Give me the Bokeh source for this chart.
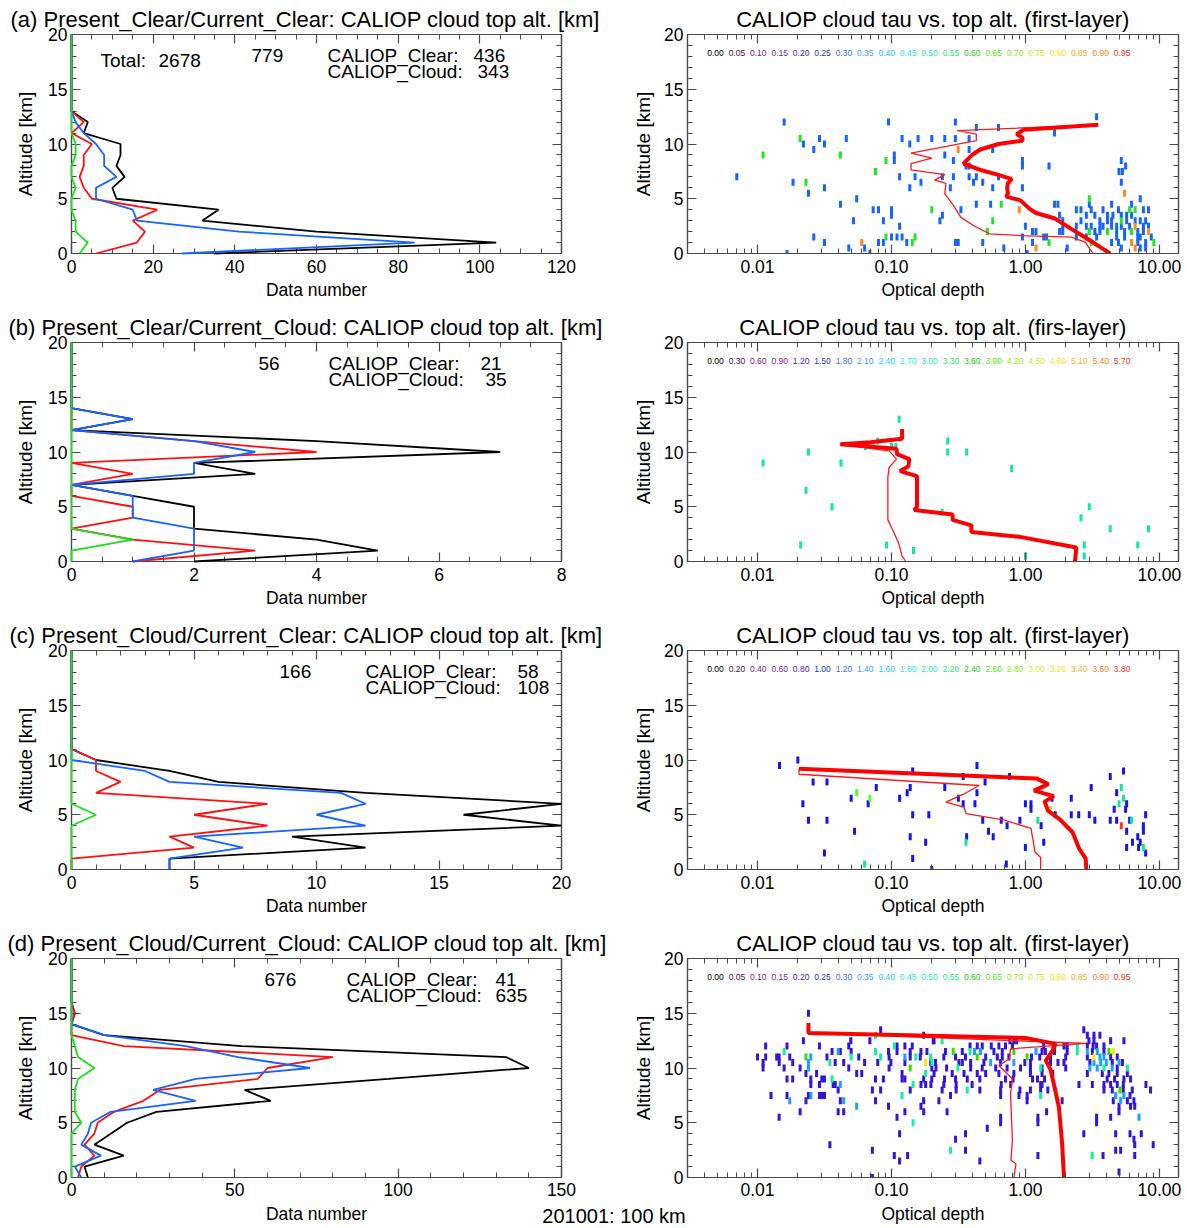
import numpy as np
from bokeh.plotting import figure
from bokeh.layouts import column, row
from bokeh.models import (Range1d, FixedTicker, PrintfTickFormatter, LinearAxis, LogAxis, Label)
from bokeh.embed import file_html
from bokeh.resources import INLINE

# ------------------------------------------------------------------ data
alt_levels = list(range(21))  # km

a_black = [35, 104, 60, 32, 36, 11, 10, 13, 11, 12, 12, 3, 4] + [0] * 8
a_blue = [27, 84, 41, 16, 15, 6, 6, 11, 8, 8, 6, 3, 1] + [0] * 8
a_red = [6, 16, 18, 15, 21, 5, 3, 2, 3, 3, 5, 0, 3] + [0] * 8
a_green = [2, 4, 1, 1, 0, 0, 1, 0, 0, 1, 1, 0, 0] + [0] * 8

b_black = [2, 5, 4, 2, 2, 2, 1, 0, 3, 2, 7, 4, 0, 1] + [0] * 7
b_blue = [1, 2, 2, 2, 1, 1, 1, 0, 2, 2, 3, 2, 0, 1] + [0] * 7
b_red = [1, 3, 1, 0, 1, 1, 0, 0, 1, 0, 4, 2, 0, 0] + [0] * 7
b_green = [0, 0, 1, 0] + [0] * 17

c_black = [4, 4, 12, 9, 20, 16, 20, 12, 6, 4, 1] + [0] * 10
c_blue = [4, 4, 7, 5, 12, 10, 12, 11, 4, 3, 0] + [0] * 10
c_red = [0, 0, 5, 4, 8, 5, 8, 1, 2, 1, 1] + [0] * 10
c_green = [0, 0, 0, 0, 0, 1, 0] + [0] * 14

d_black = [5, 4, 16, 7, 12, 17, 26, 61, 53, 97, 140, 133, 52, 10, 0, 1, 0, 0, 0, 0, 0]
d_blue = [3, 1, 9, 3, 5, 6, 12, 38, 25, 38, 73, 51, 35, 10, 0, 0, 0, 0, 0, 0, 0]
d_red = [2, 3, 7, 4, 7, 8, 13, 22, 27, 57, 60, 80, 16, 0, 0, 1, 0, 0, 0, 0, 0]
d_green = [0, 0, 0, 0, 0, 3, 1, 1, 1, 2, 7, 2, 1, 0, 0, 0, 0, 0, 0, 0, 0]

left_titles = ["(a) Present_Clear/Current_Clear: CALIOP cloud top alt. [km]",
               "(b) Present_Clear/Current_Cloud: CALIOP cloud top alt. [km]",
               "(c) Present_Cloud/Current_Clear: CALIOP cloud top alt. [km]",
               "(d) Present_Cloud/Current_Cloud: CALIOP cloud top alt. [km]"]
right_titles = ["CALIOP cloud tau vs. top alt. (first-layer)",
                "CALIOP cloud tau vs. top alt. (firs-layer)",
                "CALIOP cloud tau vs. top alt. (first-layer)",
                "CALIOP cloud tau vs. top alt. (first-layer)"]
total_all = 2678
n_case = [779, 56, 166, 676]
n_clear = [436, 21, 58, 41]
n_cloud = [343, 35, 108, 635]
x_max = [120, 8, 20, 150]
x_major_step = [20, 2, 5, 50]
x_minor_step = [5, 0.5, 1, 10]

key_a = ["0.00", "0.05", "0.10", "0.15", "0.20", "0.25", "0.30", "0.35", "0.40", "0.45",
         "0.50", "0.55", "0.60", "0.65", "0.70", "0.75", "0.80", "0.85", "0.90", "0.95"]
key_b = ["0.00", "0.30", "0.60", "0.90", "1.20", "1.50", "1.80", "2.10", "2.40", "2.70",
         "3.00", "3.30", "3.60", "3.90", "4.20", "4.50", "4.80", "5.10", "5.40", "5.70"]
key_c = ["0.00", "0.20", "0.40", "0.60", "0.80", "1.00", "1.20", "1.40", "1.60", "1.80",
         "2.00", "2.20", "2.40", "2.60", "2.80", "3.00", "3.20", "3.40", "3.60", "3.80"]
key_d = key_a
key_colors = ["#000000", "#401048", "#7a1a8a", "#7c22b0", "#4a1ad0", "#2030e8", "#3c6cff",
              "#3c9cff", "#20c8ff", "#20ecec", "#20eeb0", "#20ee70", "#10d010", "#50ee10",
              "#90ee10", "#c8ee20", "#ffe010", "#ffb020", "#ff8020", "#ff3020"]

# 2-D histogram cells: {altitude km: [optical depths]}
a_cells_blue = {
    12.5: [3.4], 12.0: [0.0158, 0.095, 0.30], 11.5: [0.43, 0.63], 11.0: [1.65],
    10.5: [0.029, 0.046, 0.12, 0.158, 0.2, 0.25, 0.30, 0.38],
    10.0: [0.022, 0.0316, 0.137], 9.5: [0.0263, 0.38, 0.57], 9.0: [0.105, 0.25],
    8.5: [0.105, 0.29, 0.95, 5.2], 8.0: [0.36, 0.38, 0.95, 1.5, 5.6], 7.5: [5.0, 5.3],
    7.0: [0.007, 0.115, 0.15, 0.24, 0.29, 0.38, 0.43, 0.63],
    6.5: [0.0184, 0.166, 0.41, 0.48, 5.2], 6.0: [0.0316, 0.137, 0.275, 0.57, 0.95],
    5.5: [0.024], 5.0: [0.055, 7.2],
    4.5: [0.0416, 0.43, 0.55, 1.65, 1.75, 3.0, 4.4, 6.2],
    4.0: [0.073, 0.08, 0.1, 0.33, 2.4, 2.6, 3.1, 3.8, 4.95, 7.6, 8.3],
    3.5: [0.1, 0.24, 1.8, 2.85, 3.3, 4.1, 4.5, 5.2, 5.7, 6.2],
    3.0: [0.052, 0.087, 0.23, 1.9, 2.6, 3.6, 4.1, 4.4, 5.7, 6.6, 7.2, 7.9],
    2.5: [0.115, 1.0, 1.9, 2.4, 2.85, 3.1, 3.6, 3.8, 4.4, 4.8, 5.2, 6.0, 7.6, 8.3],
    2.0: [1.13, 1.2, 1.8, 1.9, 3.3, 3.6, 4.8, 5.5, 6.9, 7.6],
    1.5: [0.0263, 0.1, 0.11, 0.12, 0.95, 1.37, 1.44, 2.4, 2.85, 3.4, 4.8, 5.5, 6.9, 7.2, 8.7],
    1.0: [0.0316, 0.08, 0.087, 0.13, 0.30, 0.315, 0.48, 1.13, 4.4, 4.95, 6.9, 7.9],
    0.5: [0.048, 0.063, 0.69, 2.05, 5.2, 7.2, 7.9],
    0.0: [0.0166, 0.069, 1.03],
}
a_cells_green = {
    10.5: [0.0208], 9.0: [0.011, 0.0416], 8.5: [0.091], 7.5: [0.076], 6.5: [0.023],
    5.0: [3.0], 4.5: [0.66], 4.0: [0.2, 6.0, 6.6], 3.0: [0.57, 5.2],
    2.0: [0.52, 3.0, 4.1, 6.2], 1.5: [0.091, 0.15], 1.0: [0.143, 1.5, 3.1, 9.1],
}
a_cells_orange = {
    9.5: [0.315], 5.5: [5.5], 4.0: [0.9], 2.5: [6.6], 2.0: [8.3],
    1.0: [0.06, 6.2], 0.5: [1.2, 6.6],
}
b_cells_mint = {
    13.0: [0.114], 11.0: [0.079, 0.263], 10.5: [0.064, 0.1, 0.108],
    10.0: [0.024, 0.263, 0.364], 9.0: [0.011, 0.042], 8.5: [0.79], 6.5: [0.023],
    5.0: [0.036, 3.0], 4.5: [0.239], 4.0: [2.6], 3.0: [4.3, 8.3],
    1.5: [0.021, 0.092, 2.75, 6.9], 1.0: [0.146], 0.5: [1.0, 2.75],
}
c_cells_blue = {
    10.0: [0.020], 9.5: [0.0146, 0.435], 9.0: [0.144, 5.4], 8.5: [0.343, 0.76, 4.3],
    8.0: [0.026, 0.033, 0.50], 7.5: [0.077, 0.138, 0.25, 3.1], 7.0: [0.131, 0.435, 4.8],
    6.5: [0.05, 0.115, 0.316, 1.58, 2.2], 6.0: [0.0218, 0.067, 0.343, 0.42, 1.0, 1.1, 5.7],
    5.5: [1.1, 4.6, 5.6], 5.0: [0.144, 0.19, 1.67, 2.2, 2.5, 3.0, 7.9],
    4.5: [0.024, 0.033, 0.48, 0.66, 0.91, 3.3, 4.3, 4.8, 6.0], 4.0: [0.73, 1.31, 7.6],
    3.5: [0.053, 0.53, 5.7, 7.6], 3.0: [0.138, 0.364, 0.575, 6.9],
    2.5: [0.18, 1.37, 6.3, 7.2], 2.0: [1.0, 5.7, 7.0], 1.5: [0.0316, 7.9],
    1.0: [0.144], 0.5: [0.72], 0.0: [0.2],
}
c_cells_mint = {7.5: [5.2], 6.5: [5.4], 6.0: [5.0], 4.5: [1.24, 6.2], 2.5: [0.36],
                2.0: [7.6], 0.5: [0.063]}
c_cells_green = {7.0: [0.055], 6.5: [0.069], 5.5: [1.53]}
c_cells_red = {4.0: [5.2]}
d_cells_violet = {
    15.0: [0.024], 13.5: [0.083, 2.73], 13.0: [0.174, 2.9, 3.25, 3.6],
    12.5: [0.022, 0.0497, 0.069, 0.205, 0.208, 0.766, 0.82, 0.86, 2.98, 3.25, 4.33, 5.44],
    12.0: [0.0115, 0.0166, 0.029, 0.048, 0.11, 0.126, 0.143, 0.386, 0.437, 0.476, 0.556,
           0.634, 0.71, 0.80, 1.37, 1.61, 1.94, 2.05, 2.9, 3.2, 3.4, 3.86],
    11.5: [0.036, 0.0415, 0.05, 0.095, 0.11, 0.138, 0.166, 0.184, 0.253, 0.338, 0.582,
           0.672, 1.33, 1.41, 1.65, 2.05, 3.16, 3.86],
    11.0: [0.01, 0.0115, 0.0139, 0.0145, 0.0174, 0.033, 0.057, 0.096, 0.138, 0.164, 0.246,
           0.301, 0.357, 0.505, 0.617, 0.672, 0.753, 1.11, 1.28, 1.54, 2.0, 2.9, 4.33, 4.85],
    10.5: [0.011, 0.0145, 0.0183, 0.038, 0.044, 0.063, 0.079, 0.099, 0.126, 0.196, 0.213,
           0.319, 0.338, 0.39, 0.49, 0.653, 0.99, 1.09, 1.54, 1.75, 1.94, 3.03, 4.45, 5.3],
    10.0: [0.011, 0.0158, 0.0208, 0.048, 0.096, 0.2, 0.215, 0.258, 0.39, 0.476, 0.6, 0.73,
           0.92, 1.09, 1.33, 2.0, 4.85],
    9.5: [0.023, 0.0276, 0.055, 0.06, 0.12, 0.208, 0.284, 0.348, 0.437, 0.505, 0.634, 0.82,
          1.09, 1.33, 1.6, 2.9, 3.75, 4.2, 4.85, 5.77],
    9.0: [0.0166, 0.0183, 0.025, 0.0302, 0.0316, 0.076, 0.087, 0.12, 0.126, 0.174, 0.2,
          0.249, 0.301, 0.368, 0.457, 0.71, 0.81, 1.13, 1.23, 1.39, 4.08, 4.63, 5.44, 6.1],
    8.5: [0.025, 0.029, 0.0367, 0.038, 0.166, 0.18, 0.197, 0.246, 0.304, 0.4, 0.66, 0.776,
          1.3, 1.33, 2.51, 3.16, 3.86, 4.33, 4.85, 5.38, 7.94],
    8.0: [0.04, 0.072, 0.083, 0.138, 0.239, 0.304, 0.457, 0.653, 0.91, 1.09, 1.3, 1.47,
          3.86, 4.45, 5.38, 6.28, 8.6],
    7.5: [0.0126, 0.0166, 0.024, 0.029, 0.0302, 0.0316, 0.276, 0.653, 0.895, 1.03, 6.04],
    7.0: [0.023, 0.0415, 0.076, 0.174, 0.226, 1.03, 1.88, 4.53, 5.77, 6.46],
    6.5: [0.095, 0.166, 5.0, 6.1, 6.55],
    6.0: [0.0208, 0.04, 0.044, 0.126, 0.174, 0.26, 1.44, 5.0],
    5.5: [0.0145, 0.11, 0.653, 1.24, 3.4, 4.33], 5.0: [0.653, 1.24, 3.4], 4.5: [0.519],
    4.0: [0.115, 0.357, 2.73, 4.72, 6.04, 7.33], 3.5: [0.301, 6.46],
    3.0: [0.0347, 6.55, 9.0], 2.5: [0.072, 0.357, 4.72, 5.14],
    2.0: [0.105, 0.132, 1.24, 3.8, 6.55], 1.5: [0.115, 0.457], 0.5: [5.0], 0.0: [0.072],
}
d_cells_lightblue = {
    11.5: [0.04, 0.417, 0.462, 1.2, 2.9, 3.44], 11.0: [0.025, 0.126, 3.6, 3.86],
    10.5: [0.024, 0.55, 0.82, 3.25, 3.65, 4.02, 5.0], 10.0: [0.024, 3.03, 3.44, 4.45],
    8.5: [0.0415], 7.5: [0.025, 4.72, 5.44], 7.0: [0.0174, 0.044, 5.14], 6.5: [0.055],
    5.5: [7.05],
}
d_cells_mint = {
    13.0: [0.076], 12.5: [0.239], 12.0: [0.105, 2.44], 11.5: [0.0158, 0.076, 0.386, 2.44],
    11.0: [0.05, 0.083, 0.152, 0.196], 10.5: [0.0347, 0.2], 10.0: [0.313, 1.3, 3.86, 5.77],
    9.5: [0.18], 9.0: [0.036], 8.5: [0.145], 8.0: [0.368], 7.5: [0.12, 1.3], 5.0: [0.145],
    2.5: [0.276], 2.0: [3.15],
}
d_cells_green = {11.5: [0.289, 0.82, 4.2], 11.0: [0.023, 0.437, 1.03], 10.0: [0.138], 8.0: [5.08]}
d_cells_yellow = {11.5: [4.53], 11.0: [3.25], 10.5: [0.18]}

# red profiles in the tau panels (thick and thin)
a_thick_alt = [11.75, 11.3, 10.9, 10.6, 10.3, 10.0, 9.5, 9.0, 8.6, 8.2, 7.6, 7.2, 6.8, 6.4,
               6.0, 5.5, 5.2, 4.85, 4.1, 3.7, 3.2, 2.25, 1.35, 0.6, 0.0]
a_thick_tau = [3.5, 0.97, 0.86, 0.95, 0.95, 0.63, 0.46, 0.40, 0.37, 0.345, 0.47, 0.62, 0.79,
               0.74, 0.73, 0.74, 0.72, 0.92, 1.07, 1.2, 1.66, 2.2, 2.9, 3.6, 4.3]
a_thin_alt = [11.75, 11.23, 10.9, 10.3, 9.16, 8.7, 8.2, 7.64, 7.2, 6.7, 6.4, 5.45, 4.4, 3.3,
              2.55, 1.8, 1.64, 1.5, 1.03, 0.1, 0.0]
a_thin_tau = [3.5, 0.31, 0.43, 0.43, 0.14, 0.20, 0.14, 0.14, 0.25, 0.21, 0.255, 0.25, 0.29,
              0.33, 0.41, 0.54, 0.92, 2.2, 2.8, 3.15, 3.2]
b_thick_alt = [12.1, 11.2, 10.9, 10.7, 10.3, 9.8, 9.35, 8.7, 8.26, 7.8, 5.0, 4.7, 4.3, 3.8,
               3.3, 2.7, 2.25, 1.28, 0.13, 0.0]
b_thick_tau = [0.12, 0.12, 0.0695, 0.0415, 0.109, 0.11, 0.136, 0.134, 0.116, 0.155, 0.155,
               0.148, 0.286, 0.286, 0.395, 0.395, 0.91, 2.4, 2.35, 2.35]
b_thin_alt = [11.2, 10.7, 10.1, 9.35, 8.6, 7.7, 3.8, 2.9, 1.7, 0.5, 0.0]
b_thin_tau = [0.12, 0.0415, 0.096, 0.109, 0.096, 0.094, 0.094, 0.102, 0.113, 0.12, 0.128]
c_thick_alt = [9.2, 8.3, 7.8, 7.2, 6.7, 6.2, 5.35, 4.6, 3.4, 1.9, 1.0, 0.0]
c_thick_tau = [0.0204, 1.22, 1.48, 1.16, 1.63, 1.39, 1.48, 1.8, 2.25, 2.52, 2.82, 2.85]
c_thin_alt = [9.2, 8.7, 7.67, 6.9, 6.15, 5.7, 5.1, 4.5, 3.75, 1.6, 1.1, 0.0]
c_thin_tau = [0.0204, 0.0204, 0.45, 0.348, 0.255, 0.348, 0.36, 0.70, 1.1, 1.18, 1.3, 1.3]
d_thick_alt = [14.1, 13.2, 12.75, 12.2, 11.6, 10.7, 9.85, 8.55, 6.4, 3.1, 0.0]
d_thick_tau = [0.024, 0.024, 1.0, 1.68, 1.6, 1.42, 1.54, 1.63, 1.78, 1.88, 1.94]
d_thin_alt = [13.2, 12.25, 11.75, 10.84, 10.23, 9.0, 7.64, 3.38, 1.6, 1.25, 0.0]
d_thin_tau = [0.024, 2.85, 0.774, 0.76, 0.634, 0.80, 0.774, 0.80, 0.78, 0.849, 0.82]

# ------------------------------------------------------------------ styling
FONT = "Liberation Sans"
AXC = "#4a4a4a"
C_BLACK, C_BLUE, C_RED, C_GREEN = "#000000", "#1464ff", "#ff1010", "#18e018"

profiles = [(a_black, a_red, a_blue, a_green), (b_black, b_red, b_blue, b_green),
            (c_black, c_red, c_blue, c_green), (d_black, d_red, d_blue, d_green)]
cells = [
    [(a_cells_blue, "#1464ff"), (a_cells_green, "#22e622"), (a_cells_orange, "#ff8a1e")],
    [(b_cells_mint, "#14e6a0")],
    [(c_cells_blue, "#1414f0"), (c_cells_mint, "#14e6a0"), (c_cells_green, "#5aff28"),
     (c_cells_red, "#ff3214")],
    [(d_cells_violet, "#3214dc"), (d_cells_lightblue, "#1ea0ff"), (d_cells_mint, "#14f0a0"),
     (d_cells_green, "#3cdc00"), (d_cells_yellow, "#f0ec00")],
]
reds = [(a_thick_tau, a_thick_alt, a_thin_tau, a_thin_alt),
        (b_thick_tau, b_thick_alt, b_thin_tau, b_thin_alt),
        (c_thick_tau, c_thick_alt, c_thin_tau, c_thin_alt),
        (d_thick_tau, d_thick_alt, d_thin_tau, d_thin_alt)]
keys = [key_a, key_b, key_c, key_d]

title_x = [-61, -63, -62, -64]   # offsets from the left frame edge (px)
total_x = [29, 87]
case_x = [180, 187, 208, 193]
lab_x = [256, 257, 294, 275]
clear_x = [402, 409, 446, 424]
cloud_x = [406, 414, 446, 424]

y_ticker_major = [0, 5, 10, 15, 20]
y_ticker_minor = [v for v in range(21) if v % 5]
log_major = [0.01, 0.1, 1.0, 10.0]
log_minor = [k * 10.0 ** e for e in (-3, -2, -1, 0, 1) for k in range(2, 10)]

FRAME_H = 219
ROW_H = 308
LAST_H = 279


def style_axis(ax, ticker, labels=True):
    ax.ticker = ticker
    ax.axis_line_color = AXC
    ax.axis_line_width = 1.2
    ax.major_tick_line_color = AXC
    ax.major_tick_line_width = 1.2
    ax.minor_tick_line_color = AXC
    ax.major_tick_in = 9
    ax.major_tick_out = 0
    ax.minor_tick_in = 5
    ax.minor_tick_out = 0
    if labels:
        ax.major_label_text_font = FONT
        ax.major_label_text_font_size = "17.5px"
        ax.major_label_text_color = "black"
        ax.axis_label_text_font = FONT
        ax.axis_label_text_font_style = "normal"
        ax.axis_label_text_color = "black"
    else:
        ax.formatter = PrintfTickFormatter(format="%d")
        ax.major_label_text_font = FONT
        ax.major_label_text_font_size = "1px"
        ax.major_label_text_color = None
        ax.major_label_standoff = 0


def base_fig(width, height, left, right, x_range, title, log=False):
    p = figure(width=width, height=height, x_range=x_range, y_range=Range1d(0, 20),
               x_axis_type="log" if log else "linear", toolbar_location=None,
               output_backend="svg", min_border_left=left, min_border_right=right,
               min_border_top=34, min_border_bottom=height - 34 - FRAME_H, title=title)
    p.xgrid.visible = False
    p.ygrid.visible = False
    p.outline_line_color = AXC
    p.outline_line_width = 1.2
    p.background_fill_color = "white"
    p.border_fill_color = "white"
    p.title.text_font = FONT
    p.title.text_font_size = "22px"
    p.title.text_font_style = "normal"
    p.title.text_color = "black"
    p.title.standoff = 6
    return p


def add_label(p, x, y_center, text, size, align="left", color="black"):
    # y_center: distance of the text centre below the frame top (px)
    p.add_layout(Label(x=x, y=FRAME_H - y_center, x_units="screen", y_units="screen",
                       text=text, text_font=FONT, text_font_size=size, text_color=color,
                       text_align=align, text_baseline="middle"))


rows = []
for i in range(4):
    last = i == 3
    h = LAST_H if last else ROW_H
    # ---------------- left: histogram profiles
    xt = FixedTicker(ticks=list(np.arange(0, x_max[i] + 1e-9, x_major_step[i])),
                     minor_ticks=list(np.arange(0, x_max[i] + 1e-9, x_minor_step[i])))
    yt = FixedTicker(ticks=y_ticker_major, minor_ticks=y_ticker_minor)
    pl = base_fig(610, h, 71, 49, Range1d(0, x_max[i]), left_titles[i])
    pl.title.align = "left"
    pl.title.offset = title_x[i]
    style_axis(pl.xaxis[0], xt)
    style_axis(pl.yaxis[0], yt)
    pl.xaxis[0].major_label_standoff = 5 if last else 6
    pl.xaxis[0].axis_label_standoff = 4
    pl.xaxis[0].axis_label_text_font_size = "17.5px"
    pl.yaxis[0].major_label_standoff = 4
    pl.yaxis[0].axis_label_standoff = 9
    pl.yaxis[0].axis_label_text_font_size = "19px"
    if not last:
        pl.xaxis[0].axis_label = "Data number"
    pl.yaxis[0].axis_label = "Altitude [km]"
    top = LinearAxis(); style_axis(top, xt, labels=False); pl.add_layout(top, "above")
    rgt = LinearAxis(); style_axis(rgt, yt, labels=False); pl.add_layout(rgt, "right")
    blk, red, blu, grn = profiles[i]
    for vals, col in ((blk, C_BLACK), (red, C_RED), (blu, C_BLUE), (grn, C_GREEN)):
        pl.line(x=vals, y=alt_levels, line_color=col, line_width=1.8, level="overlay")
    if i == 0:
        add_label(pl, total_x[0], 26, "Total:", "19px")
        add_label(pl, total_x[1], 26, "%d" % total_all, "19px")
    add_label(pl, case_x[i], 21, "%d" % n_case[i], "19px")
    add_label(pl, lab_x[i], 21, "CALIOP_Clear:", "19px")
    add_label(pl, lab_x[i], 37, "CALIOP_Cloud:", "19px")
    add_label(pl, clear_x[i], 21, "%d" % n_clear[i], "19px")
    add_label(pl, cloud_x[i], 37, "%d" % n_cloud[i], "19px")

    # ---------------- right: tau vs altitude cells
    lt = FixedTicker(ticks=log_major, minor_ticks=log_minor)
    pr = base_fig(577, h, 77, 9, Range1d(0.003, 13.9), right_titles[i], log=True)
    pr.title.align = "center"
    style_axis(pr.xaxis[0], lt)
    pr.xaxis[0].formatter = PrintfTickFormatter(format="%.2f")
    style_axis(pr.yaxis[0], yt)
    pr.xaxis[0].major_label_standoff = 5 if last else 6
    pr.xaxis[0].axis_label_standoff = 4
    pr.xaxis[0].axis_label_text_font_size = "17.5px"
    pr.yaxis[0].major_label_standoff = 4
    pr.yaxis[0].axis_label_standoff = 7
    pr.yaxis[0].axis_label_text_font_size = "19px"
    if not last:
        pr.xaxis[0].axis_label = "Optical depth"
    pr.yaxis[0].axis_label = "Altitude [km]"
    top = LogAxis(); style_axis(top, lt, labels=False); pr.add_layout(top, "above")
    rgt = LinearAxis(); style_axis(rgt, yt, labels=False); pr.add_layout(rgt, "right")
    for cell_rows, col in cells[i]:
        xs, ys = [], []
        for alt, taus in cell_rows.items():
            xs.extend(taus)
            ys.extend([alt] * len(taus))
        pr.rect(x=xs, y=ys, width=3, height=7, width_units="screen", height_units="screen",
                fill_color=col, line_color=None)
    tk_t, tk_a, tn_t, tn_a = reds[i]
    pr.line(x=tn_t, y=tn_a, line_color="#ff1a1a", line_width=1.3)
    pr.line(x=tk_t, y=tk_a, line_color="#ff0000", line_width=4)
    for k in range(20):
        add_label(pr, 28 + 21.4 * k, 18.5, keys[i][k], "8.5px", align="center",
                  color=key_colors[k])
    rows.append(row(pl, pr))

# bottom strip: axis titles of last row and run label
strip_h = 1228 - 3 * ROW_H - LAST_H
strip = figure(width=1187, height=strip_h, x_range=Range1d(0, 1187),
               y_range=Range1d(0, strip_h), x_axis_type=None,
               y_axis_type=None, toolbar_location=None, output_backend="svg", min_border=0)
strip.outline_line_color = None
for sx, sy, stext, ssize in ((316, 15, "Data number", "17.5px"),
                             (932.5, 15, "Optical depth", "17.5px"),
                             (613.5, 13, "201001: 100 km", "20px")):
    strip.add_layout(Label(x=sx, y=sy, text=stext, text_font=FONT, text_font_size=ssize,
                           text_color="black", text_align="center", text_baseline="middle"))

layout = column(*rows, strip)
open("out.html", "w").write(file_html(layout, INLINE))
